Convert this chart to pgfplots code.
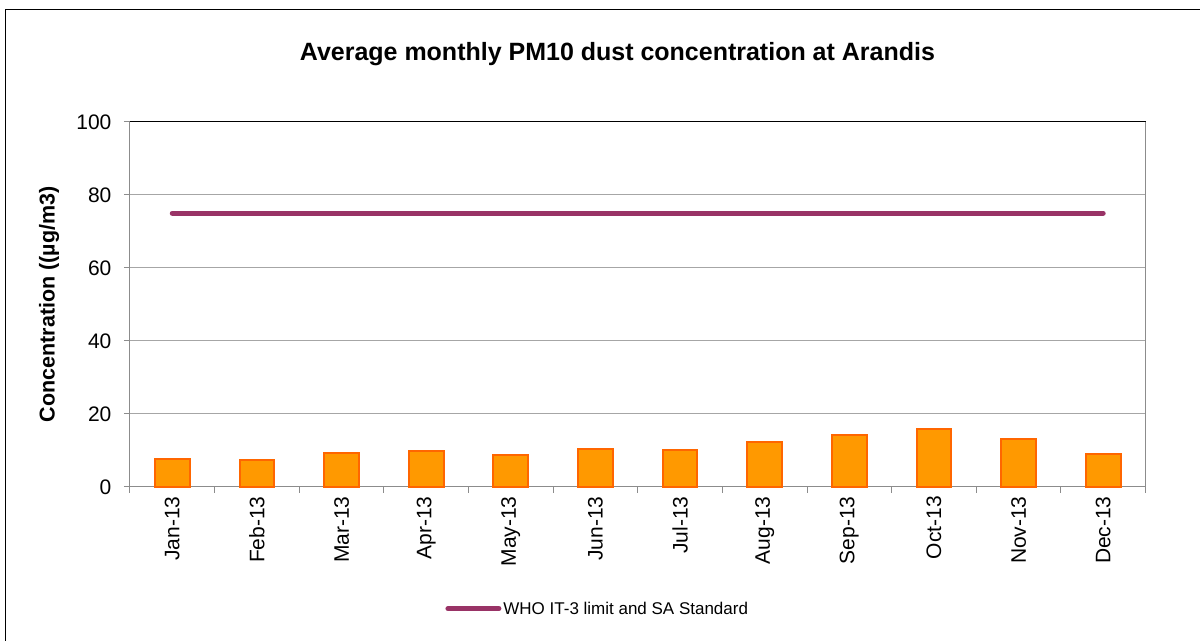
\documentclass[border=0pt]{standalone}
\usepackage{pgfplots}
\pgfplotsset{compat=1.18}
\usepackage{fontspec}
\setmainfont{Liberation Sans}
\definecolor{barfill}{HTML}{FF9900}
\definecolor{barline}{HTML}{FF6600}
\definecolor{limitcol}{HTML}{993366}
\definecolor{gridcol}{HTML}{A6A6A6}
\definecolor{axcol}{HTML}{8C8C8C}
\begin{document}
\begin{tikzpicture}[x=1pt,y=1pt]
\fill[white] (0,0) rectangle (1200,641);
\draw[black, line width=1pt] (6,0) -- (6,631) -- (1200,631);
\begin{axis}[
  at={(130pt,154pt)}, anchor=south west,
  scale only axis, width=1016pt, height=365pt,
  xmin=-0.5, xmax=11.5, ymin=0, ymax=100,
  ytick={0,20,...,100},
  xtick={0,...,11},
  xticklabels={Jan-13,Feb-13,Mar-13,Apr-13,May-13,Jun-13,Jul-13,Aug-13,Sep-13,Oct-13,Nov-13,Dec-13},
  minor xtick={-0.5,0.5,...,11.5},
  major x tick style={draw=none},
  minor x tick style={draw=axcol, line width=1pt},
  ytick style={draw=axcol, line width=1pt},
  tick align=outside, major tick length=6pt, minor tick length=6pt,
  axis lines*=left,
  axis line style={draw=axcol, line width=1pt, -},
  ymajorgrids, grid style={draw=gridcol, line width=1pt},
  /pgf/number format/assume math mode=true,
  ticklabel style={font=\fontsize{21}{24}\selectfont},
  xticklabel style={rotate=90, anchor=east},
  yticklabel style={xshift=-9pt},
  ylabel={Concentration ((µg/m3)},
  ylabel style={at={(axis description cs:-0.0797,0.5)}, anchor=center, font=\bfseries\fontsize{21.5}{25}\selectfont},
  title={Average monthly PM10 dust concentration at Arandis},
  title style={at={(axis description cs:0.480,1.170)}, anchor=center, font=\bfseries\fontsize{25}{29}\selectfont},
  legend style={at={(axis description cs:0.4606,-0.334)}, anchor=center, draw=none, fill=none,
    font=\fontsize{17}{20}\selectfont},
  legend image code/.code={\draw[#1, line cap=round] (0pt,0pt) -- (51pt,0pt);},
  clip=false,
]
\addplot[ybar, bar width=0.41, fill=barfill, draw=barline, line width=2pt, forget plot]
  coordinates {(0,7.75) (1,7.3) (2,9.4) (3,9.7) (4,8.85) (5,10.4) (6,9.95) (7,12.4) (8,14.2) (9,15.9) (10,13.0) (11,9.1)};
\addplot[limitcol, line width=5pt, line cap=round] coordinates {(0,75) (11,75)};
\addlegendentry{WHO IT-3 limit and SA Standard}
\draw[black, line width=1pt] (rel axis cs:0,1) -- (rel axis cs:1,1);
\draw[axcol, line width=1pt] (rel axis cs:1,1) -- (rel axis cs:1,0);
\end{axis}
\end{tikzpicture}
\end{document}
